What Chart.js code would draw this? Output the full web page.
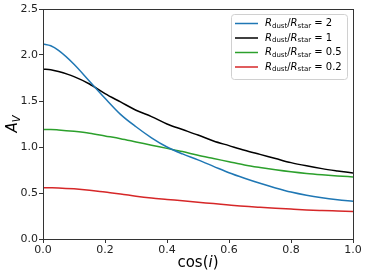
<!DOCTYPE html>
<html>
<head>
<meta charset="UTF-8">
<title>Av vs cos(i)</title>
<script src="https://cdn.jsdelivr.net/npm/chart.js"></script>
<style>
  html, body { margin: 0; padding: 0; background: #fff; }
  #wrap { width: 366px; height: 276px; }
</style>
</head>
<body>
<div id="wrap"><canvas id="avChart" width="366" height="276"></canvas></div>
<script>
    // values
    const cosI = [0, 0.025, 0.05, 0.1, 0.15, 0.2, 0.25, 0.3, 0.35, 0.4, 0.45, 0.5,
                  0.55, 0.6, 0.65, 0.7, 0.75, 0.8, 0.85, 0.9, 0.95, 1.0];
    const av_r2 = [2.12, 2.10, 2.05, 1.90, 1.715, 1.53, 1.355, 1.22, 1.10, 1.00, 0.925, 0.86,
                   0.79, 0.72, 0.66, 0.605, 0.555, 0.51, 0.475, 0.448, 0.427, 0.41];
    const av_r1 = [1.845, 1.84, 1.82, 1.765, 1.685, 1.58, 1.49, 1.40, 1.33, 1.25, 1.19, 1.13,
                   1.065, 1.015, 0.965, 0.92, 0.875, 0.83, 0.795, 0.765, 0.74, 0.717];
    const av_r05 = [1.19, 1.19, 1.185, 1.17, 1.15, 1.12, 1.09, 1.055, 1.02, 0.985, 0.95, 0.91,
                    0.875, 0.84, 0.805, 0.777, 0.752, 0.73, 0.712, 0.698, 0.686, 0.675];
    const av_r02 = [0.558, 0.557, 0.555, 0.545, 0.53, 0.51, 0.49, 0.465, 0.445, 0.43, 0.415, 0.40,
                    0.385, 0.37, 0.355, 0.345, 0.335, 0.325, 0.316, 0.31, 0.305, 0.30];
    const ratios = ['2', '1', '0.5', '0.2'];
    const colors = ['#1f77b4', '#000000', '#2ca02c', '#d62728'];
    const xTicks = [0, 0.2, 0.4, 0.6, 0.8, 1.0];
    const yTicks = [0, 0.5, 1.0, 1.5, 2.0, 2.5];

    const allSeries = [av_r2, av_r1, av_r05, av_r02];
    const FONT = "'DejaVu Sans', sans-serif";

    const datasets = allSeries.map(function (vals, i) {
        return {
            label: 'R_dust/R_star = ' + ratios[i],
            data: vals.map(function (v, k) { return { x: cosI[k], y: v }; }),
            borderColor: colors[i],
            borderWidth: 1.5,
            pointRadius: 0,
            fill: false,
            cubicInterpolationMode: 'monotone'
        };
    });

    // draw a run of text pieces with different fonts / offsets
    function richText(ctx, parts, x, y, align) {
        let total = 0;
        parts.forEach(function (p) { ctx.font = p.font; total += ctx.measureText(p.t).width; });
        let cx = align === 'center' ? x - total / 2 : x;
        parts.forEach(function (p) {
            ctx.font = p.font;
            ctx.fillText(p.t, cx, y + (p.dy || 0));
            cx += ctx.measureText(p.t).width;
        });
    }

    const extras = {
        id: 'extras',
        afterDraw: function (chart) {
            const ctx = chart.ctx;
            const a = chart.chartArea;
            ctx.save();
            // frame (top / right spines)
            ctx.strokeStyle = '#333';
            ctx.lineWidth = 1;
            ctx.strokeRect(Math.round(a.left) + 0.5, Math.round(a.top) + 0.5,
                           Math.round(a.right - a.left), Math.round(a.bottom - a.top));

            ctx.fillStyle = '#000';
            ctx.textBaseline = 'middle';
            // x title
            richText(ctx, [
                { t: 'cos(', font: '15px ' + FONT },
                { t: 'i', font: 'italic 15px ' + FONT },
                { t: ')', font: '15px ' + FONT }
            ], (a.left + a.right) / 2, 263, 'center');

            // y title
            ctx.save();
            ctx.translate(13, (a.top + a.bottom) / 2);
            ctx.rotate(-Math.PI / 2);
            richText(ctx, [
                { t: 'A', font: 'italic 15px ' + FONT },
                { t: 'V', font: 'italic 10px ' + FONT, dy: 4 }
            ], 0, 0, 'center');
            ctx.restore();

            // legend
            const lx = 231.5, ly = 14.5, lw = 116, lh = 65;
            ctx.beginPath();
            ctx.roundRect(lx, ly, lw, lh, 3);
            ctx.fillStyle = 'rgba(255,255,255,0.8)';
            ctx.fill();
            ctx.strokeStyle = '#d0d0d0';
            ctx.stroke();
            ratios.forEach(function (r, i) {
                const yy = 23.5 + i * 14.5;
                ctx.strokeStyle = colors[i];
                ctx.lineWidth = 1.5;
                ctx.beginPath();
                ctx.moveTo(235, yy);
                ctx.lineTo(258, yy);
                ctx.stroke();
                ctx.fillStyle = '#000';
                richText(ctx, [
                    { t: 'R', font: 'italic 10px ' + FONT },
                    { t: 'dust', font: '7px ' + FONT, dy: 2.5 },
                    { t: '/', font: '10px ' + FONT },
                    { t: 'R', font: 'italic 10px ' + FONT },
                    { t: 'star', font: '7px ' + FONT, dy: 2.5 },
                    { t: ' = ' + r, font: '10px ' + FONT }
                ], 265, yy, 'left');
            });
            ctx.restore();
        }
    };

    const config = {
        type: 'line',
        data: { datasets: datasets },
        options: {
            responsive: false,
            animation: false,
            devicePixelRatio: 1,
            layout: { padding: { top: 9, right: 13, bottom: 0, left: 0 } },
            plugins: { legend: { display: false }, tooltip: { enabled: false } },
            scales: {
                x: {
                    type: 'linear',
                    min: 0, max: 1,
                    afterBuildTicks: function (s) { s.ticks = xTicks.map(function (v) { return { value: v }; }); },
                    afterFit: function (s) { s.height = 37; },
                    ticks: {
                        color: '#222',
                        font: { family: FONT, size: 11 },
                        padding: 1,
                        maxRotation: 0,
                        callback: function (v) { return v.toFixed(1); }
                    },
                    grid: { drawOnChartArea: false, drawTicks: true, tickLength: 4, color: '#333' },
                    border: { display: true, color: '#333' }
                },
                y: {
                    min: 0, max: 2.5,
                    afterBuildTicks: function (s) { s.ticks = yTicks.map(function (v) { return { value: v }; }); },
                    afterFit: function (s) { s.width = 43; },
                    ticks: {
                        color: '#222',
                        font: { family: FONT, size: 11 },
                        padding: 1,
                        callback: function (v) { return v.toFixed(1); }
                    },
                    grid: { drawOnChartArea: false, drawTicks: true, tickLength: 4, color: '#333' },
                    border: { display: true, color: '#333' }
                }
            }
        },
        plugins: [extras]
    };

    const ctx = document.getElementById('avChart').getContext('2d');
    new Chart(ctx, config);
</script>
</body>
</html>
